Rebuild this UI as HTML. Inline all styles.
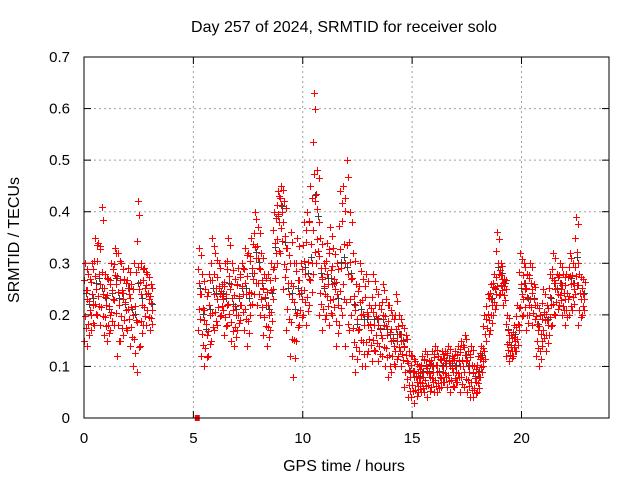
<!DOCTYPE html>
<html><head><meta charset="utf-8">
<style>
html,body{margin:0;padding:0;background:#fff;}
svg{display:block;font-family:"Liberation Sans",Arial,sans-serif;}
</style></head>
<body>
<svg id="chart" width="640" height="480" viewBox="0 0 640 480" xmlns="http://www.w3.org/2000/svg">
<rect x="0" y="0" width="640" height="480" fill="#fff"/>
<text x="344" y="32" text-anchor="middle" font-size="16">Day 257 of 2024, SRMTID for receiver solo</text>
<text x="344" y="471" text-anchor="middle" font-size="16">GPS time / hours</text>
<text transform="translate(19,240) rotate(-90)" text-anchor="middle" font-size="16">SRMTID / TECUs</text>
<g id="grid"></g>
<g id="ticks"></g>
<g id="marks"></g>
<rect x="84" y="57" width="525" height="361" fill="none" stroke="#000" stroke-width="1"/>
</svg>
<script>
const xTicks = [0, 5, 10, 15, 20];
const yTicks = [0, 0.1, 0.2, 0.3, 0.4, 0.5, 0.6, 0.7];
const yTickLabels = ["0", "0.1", "0.2", "0.3", "0.4", "0.5", "0.6", "0.7"];
const times = [0,0.15,0.3,0.45,0.6,0.75,0.9,1.05,1.2,1.35,1.5,1.65,1.8,1.95,2.1,2.25,2.4,2.55,2.7,2.85,3.0,
5.2,5.35,5.5,5.65,5.8,5.95,6.1,6.25,6.4,6.55,6.7,6.85,7.0,7.15,7.3,7.45,7.6,7.75,7.9,8.05,8.2,8.35,8.5,8.65,8.8,8.95,9.1,9.25,9.4,9.55,9.7,9.85,10.0,10.15,10.3,10.45,10.6,10.75,10.9,11.05,11.2,11.35,11.5,11.65,11.8,11.95,12.1,12.25,12.4,12.55,12.7,12.85,13.0,13.15,13.3,13.45,13.6,13.75,13.9,14.05,14.2,14.35,14.5,14.65,14.8,14.95,15.1,15.25,15.4,15.55,15.7,15.85,16.0,16.15,16.3,16.45,16.6,16.75,16.9,17.05,17.2,17.35,17.5,17.65,17.8,17.95,18.1,18.25,18.4,18.55,18.7,18.85,19.0,19.15,19.3,19.45,19.6,19.75,19.9,20.05,20.2,20.35,20.5,20.65,20.8,20.95,21.1,21.25,21.4,21.55,21.7,21.85,22.0,22.15,22.3,22.45,22.6,22.75];
const redLow = [0.15,0.14,0.17,0.18,0.20,0.18,0.16,0.15,0.17,0.18,0.12,0.15,0.16,0.17,0.14,0.10,0.09,0.14,0.18,0.18,0.17,
.17,.12,.10,.12,.15,.17,.18,.20,.16,.18,.15,.14,.17,.19,.17,.14,.20,.24,.22,.20,.16,.14,.17,.25,.30,.32,.25,.17,.12,.08,.15,.18,.20,.18,.22,.28,.30,.20,.17,.20,.18,.20,.14,.18,.20,.14,.17,.12,.09,.13,.10,.10,.13,.11,.13,.11,.12,.10,.08,.09,.10,.12,.10,.06,.04,.04,.03,.05,.05,.05,.04,.06,.05,.05,.06,.07,.06,.05,.06,.07,.05,.06,.05,.04,.04,.05,.08,.10,.15,.17,.20,.22,.24,.22,.12,.11,.12,.13,.18,.20,.17,.20,.18,.12,.10,.14,.13,.16,.18,.20,.22,.20,.18,.20,.21,.24,.18,.20];
const redMid = [0.23,0.21,0.22,0.25,0.26,0.24,0.22,0.20,0.23,0.26,0.22,0.23,0.21,0.24,0.20,0.19,0.25,0.22,0.24,0.23,0.21,
.24,.19,.16,.20,.24,.23,.24,.23,.22,.25,.21,.20,.22,.24,.24,.22,.27,.31,.29,.25,.22,.20,.23,.32,.38,.40,.33,.24,.23,.20,.24,.23,.28,.27,.30,.42,.38,.27,.24,.26,.26,.25,.22,.29,.30,.28,.27,.21,.17,.20,.18,.18,.17,.18,.18,.16,.18,.16,.15,.14,.15,.15,.14,.11,.08,.08,.07,.07,.08,.09,.08,.09,.09,.08,.09,.10,.10,.09,.09,.10,.10,.11,.09,.09,.07,.08,.11,.15,.19,.22,.24,.28,.27,.25,.16,.13,.15,.17,.24,.25,.22,.25,.22,.17,.15,.19,.18,.22,.25,.24,.25,.23,.23,.26,.25,.30,.23,.23];
const redHigh = [0.30,0.28,0.30,0.35,0.34,0.41,0.28,0.27,0.30,0.33,0.32,0.30,0.27,0.29,0.26,0.30,0.42,0.30,0.29,0.28,0.26,
.33,.28,.25,.28,.35,.32,.30,.26,.30,.35,.30,.27,.29,.30,.33,.32,.35,.40,.37,.32,.28,.28,.30,.40,.44,.45,.42,.33,.36,.30,.35,.30,.38,.40,.45,.63,.48,.35,.30,.34,.37,.33,.30,.44,.45,.50,.40,.32,.26,.30,.27,.28,.22,.28,.25,.22,.26,.23,.22,.20,.24,.20,.18,.16,.13,.12,.11,.10,.12,.13,.11,.13,.14,.12,.13,.13,.14,.12,.13,.14,.15,.16,.13,.14,.10,.12,.14,.20,.24,.26,.28,.36,.30,.27,.20,.16,.18,.22,.32,.30,.28,.30,.26,.22,.20,.25,.22,.28,.32,.28,.30,.28,.28,.32,.30,.39,.28,.27];
const squareTimes = [5.2];
const squareValues = [0];

const X0 = 84, X1 = 609, Y0 = 418, Y1 = 57, XMAX = 24, YMAX = 0.7;
function xs(t){ return X0 + (t / XMAX) * (X1 - X0); }
function ys(v){ return Y0 - (v / YMAX) * (Y0 - Y1); }
const NS = "http://www.w3.org/2000/svg";
const grid = document.getElementById('grid');
const ticks = document.getElementById('ticks');
const marks = document.getElementById('marks');
function mk(tag, attrs, parent){
  const e = document.createElementNS(NS, tag);
  for (const k in attrs) e.setAttribute(k, attrs[k]);
  parent.appendChild(e);
  return e;
}
yTicks.forEach((v, i) => {
  const y = ys(v);
  if (i > 0 && i < yTicks.length - 1) {
    const g = mk('line', {x1:X0, x2:X1, y1:y, y2:y, stroke:'#a0a0a0', 'stroke-dasharray':'2,3'}, grid);
    
    
  }
  const t1 = mk('line', {x1:X0, x2:X0+7, y1:y, y2:y, stroke:'#000'}, ticks);
  
  
  const t2 = mk('line', {x1:X1-7, x2:X1, y1:y, y2:y, stroke:'#000'}, ticks);
  
  
  const lb = mk('text', {x:X0-14, y:y+5, 'text-anchor':'end', 'font-size':15}, ticks);
  lb.textContent = yTickLabels[i];
  
  
});
xTicks.forEach(t => {
  const x = xs(t);
  if (t > 0) {
    const g = mk('line', {x1:x, x2:x, y1:Y0, y2:Y1, stroke:'#a0a0a0', 'stroke-dasharray':'2,3'}, grid);
    
    
  }
  const t1 = mk('line', {x1:x, x2:x, y1:Y0, y2:Y0-7, stroke:'#000'}, ticks);
  
  
  const t2 = mk('line', {x1:x, x2:x, y1:Y1, y2:Y1+7, stroke:'#000'}, ticks);
  
  
  const lb = mk('text', {x:x, y:Y0+25, 'text-anchor':'middle', 'font-size':15}, ticks);
  lb.textContent = String(t);
  
  
});
function plus(t, v, color, name){
  const x = Math.round(xs(t)) + 0.5, y = Math.round(ys(v)) + 0.5;
  const p = mk('path', {d:`M${x-3.5},${y}H${x+3.5}M${x},${y-3.5}V${y+3.5}`, stroke:color, 'stroke-width':1, fill:'none', 'shape-rendering':'crispEdges'}, marks);
  
  
}
const n = Math.min(times.length, redLow.length, redMid.length, redHigh.length);
// black series (drawn underneath)
for (let i = 0; i < n; i++) {
  plus(times[i] + 0.09, redMid[i] + 0.012, '#404040', 'black-point');
}
// red series: spread between low/mid/high within each bin
const fracA = [0, 0.3, 0.6, 1];
const offA = [0.0, 0.1, 0.04, 0.12];
const fracB = [0.25, 0.55, 0.85, 1];
const offB = [0.07, 0.0, 0.13, 0.05];
for (let i = 0; i < n; i++) {
  fracA.forEach((f, k) => plus(times[i] + offA[k], redLow[i] + (redMid[i] - redLow[i]) * f, '#ff0000', 'red-point'));
  fracB.forEach((f, k) => plus(times[i] + offB[k], redMid[i] + (redHigh[i] - redMid[i]) * f, '#ff0000', 'red-point'));
}
squareTimes.forEach((t, i) => {
  const r = mk('rect', {x:xs(t)-3, y:ys(squareValues[i])-3, width:5, height:6, fill:'#ff0000'}, marks);
  
  
});
</script>
</body></html>
